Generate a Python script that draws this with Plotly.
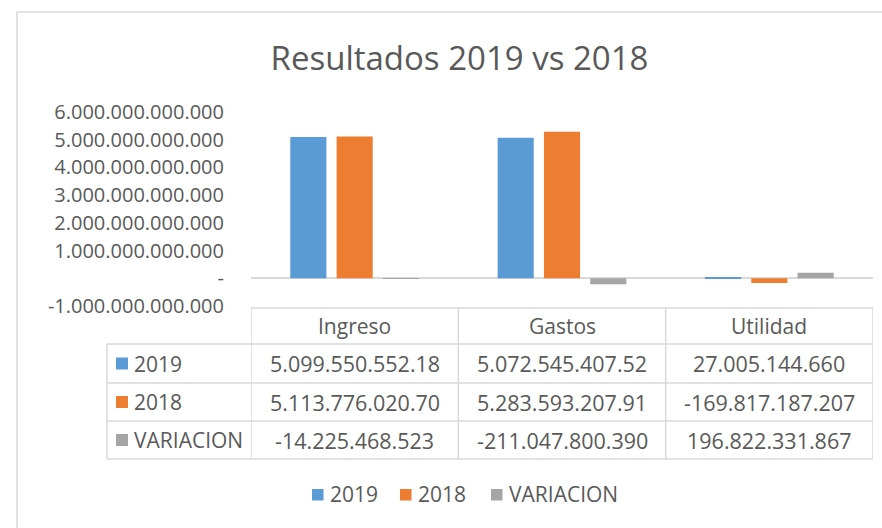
import plotly.graph_objects as go

# ---- data ----
categories = ["Ingreso", "Gastos", "Utilidad"]
series_names = ["2019", "2018", "VARIACION"]
values_2019 = [5099550552180, 5072545407520, 27005144660]
values_2018 = [5113776020700, 5283593207910, -169817187207]
values_var = [-14225468523, -211047800390, 196822331867]
labels_2019 = ["5.099.550.552.18", "5.072.545.407.52", "27.005.144.660"]
labels_2018 = ["5.113.776.020.70", "5.283.593.207.91", "-169.817.187.207"]
labels_var = ["-14.225.468.523", "-211.047.800.390", "196.822.331.867"]
tick_vals = [-1e12, 0, 1e12, 2e12, 3e12, 4e12, 5e12, 6e12]
tick_text = ["-1.000.000.000.000", "-", "1.000.000.000.000", "2.000.000.000.000",
             "3.000.000.000.000", "4.000.000.000.000", "5.000.000.000.000",
             "6.000.000.000.000"]
colors = ["#5B9BD5", "#ED7D31", "#A5A5A5"]
title_text = "Resultados 2019 vs 2018"

FONT = "Open Sans"
TXT = "#595959"
GRID = "#D9D9D9"
W, H = 882, 528
L, R, T, B = 251, 873, 112, 306  # plot area in pixels


def xp(px):
    return (px - L) / (R - L)


def yp(py):
    return (B - py) / (B - T)


fig = go.Figure()
all_vals = [values_2019, values_2018, values_var]
for name, vals, col in zip(series_names, all_vals, colors):
    fig.add_trace(go.Bar(x=categories, y=vals, name=name,
                         marker=dict(color=col, line=dict(width=0)),
                         hoverinfo="x+y+name"))

shapes = []
annotations = []

# outer chart border
shapes.append(dict(type="rect", xref="paper", yref="paper",
                   x0=xp(17), x1=xp(895), y0=yp(12), y1=yp(545),
                   line=dict(color=GRID, width=1.5), fillcolor="rgba(0,0,0,0)",
                   layer="below"))

# data table
row_lines = [308, 344, 383, 421, 459]
for i, py in enumerate(row_lines):
    x0 = xp(251) if i == 0 else xp(107)
    shapes.append(dict(type="line", xref="paper", yref="paper",
                       x0=x0, x1=xp(873), y0=yp(py), y1=yp(py),
                       line=dict(color=GRID, width=1.5)))
shapes.append(dict(type="line", xref="paper", yref="paper",
                   x0=xp(107), x1=xp(107), y0=yp(344), y1=yp(459),
                   line=dict(color=GRID, width=1.5)))
for xv in [-0.5, 0.5, 1.5, 2.5]:
    shapes.append(dict(type="line", xref="x", yref="paper",
                       x0=xv, x1=xv, y0=yp(308), y1=yp(459),
                       line=dict(color=GRID, width=1.5)))

# header
for c in categories:
    annotations.append(dict(x=c, xref="x", y=yp(326), yref="paper",
                            text=c, showarrow=False, xanchor="center",
                            yanchor="middle",
                            font=dict(family=FONT, size=21, color=TXT)))

row_centers = [363.5, 402, 440]
row_labels = [labels_2019, labels_2018, labels_var]
for name, col, labs, cy in zip(series_names, colors, row_labels, row_centers):
    shapes.append(dict(type="rect", xref="paper", yref="paper",
                       x0=xp(116), x1=xp(128), y0=yp(cy - 6), y1=yp(cy + 6),
                       fillcolor=col, line=dict(width=0)))
    annotations.append(dict(x=xp(132), xref="paper", y=yp(cy), yref="paper",
                            text=name, showarrow=False, xanchor="left",
                            yanchor="middle",
                            font=dict(family=FONT, size=21, color=TXT)))
    for c, t in zip(categories, labs):
        annotations.append(dict(x=c, xref="x", y=yp(cy), yref="paper",
                                text=t, showarrow=False, xanchor="center",
                                yanchor="middle",
                                font=dict(family=FONT, size=21.5, color=TXT)))

# legend (bottom)
leg_sq = [312, 400, 491]
for name, col, sx in zip(series_names, colors, leg_sq):
    shapes.append(dict(type="rect", xref="paper", yref="paper",
                       x0=xp(sx), x1=xp(sx + 11.5), y0=yp(489), y1=yp(500.5),
                       fillcolor=col, line=dict(width=0)))
    annotations.append(dict(x=xp(sx + 16), xref="paper", y=yp(494), yref="paper",
                            text=name, showarrow=False, xanchor="left",
                            yanchor="middle",
                            font=dict(family=FONT, size=21, color=TXT)))

fig.update_layout(
    width=W, height=H, autosize=False,
    margin=dict(l=L, r=W - R, t=T, b=H - B, pad=0),
    paper_bgcolor="white", plot_bgcolor="white",
    showlegend=False,
    barmode="group", bargap=0.33, bargroupgap=0.22,
    title=dict(text=title_text, x=459.5 / W, xref="container",
               y=1 - 58 / H, yref="container", xanchor="center",
               yanchor="middle", font=dict(family=FONT, size=33, color=TXT)),
    xaxis=dict(type="category", range=[-0.5, 2.5], showticklabels=False,
               showgrid=False, showline=False, zeroline=False, ticks=""),
    yaxis=dict(range=[-1e12, 6e12], tickmode="array", tickvals=tick_vals,
               ticktext=tick_text, showgrid=False, showline=False,
               zeroline=True, zerolinecolor=GRID, zerolinewidth=2,
               ticks="", ticklabelstandoff=26,
               tickfont=dict(family=FONT, size=20, color=TXT)),
    shapes=shapes, annotations=annotations,
)

fig.write_html("out.html", config={"displayModeBar": False},
               post_script="document.body.style.margin='0px';")
